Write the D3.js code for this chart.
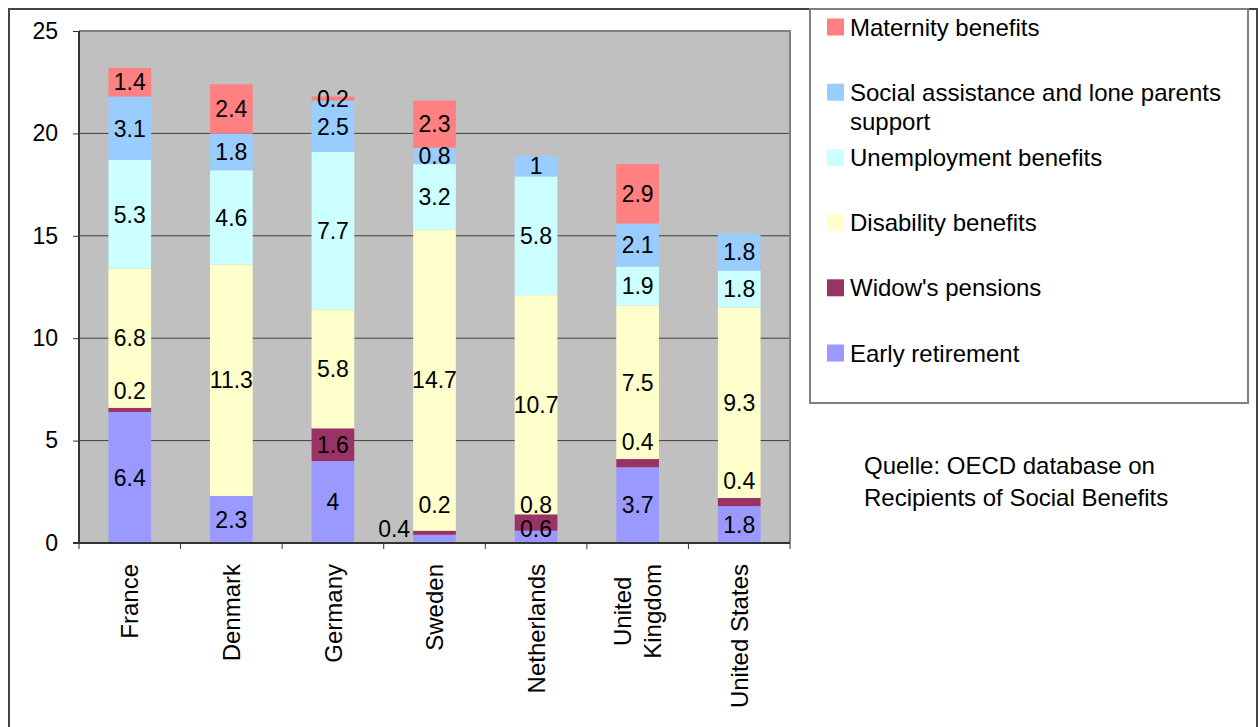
<!DOCTYPE html>
<html>
<head>
<meta charset="utf-8">
<script src="https://cdn.jsdelivr.net/npm/d3@7"></script>
<style>
  html, body { margin: 0; padding: 0; background: #fff; }
  svg { display: block; font-family: "Liberation Sans", Arial, sans-serif; }
</style>
</head>
<body>
<svg id="chart" width="1258" height="727"></svg>
<script>
// ---------- data ----------
const categories = ["France", "Denmark", "Germany", "Sweden", "Netherlands", "United Kingdom", "United States"];
const earlyRetirement  = [6.4, 2.3, 4, 0.4, 0.6, 3.7, 1.8];
const widowsPensions   = [0.2, 0, 1.6, 0.2, 0.8, 0.4, 0.4];
const disability       = [6.8, 11.3, 5.8, 14.7, 10.7, 7.5, 9.3];
const unemployment     = [5.3, 4.6, 7.7, 3.2, 5.8, 1.9, 1.8];
const socialAssistance = [3.1, 1.8, 2.5, 0.8, 1, 2.1, 1.8];
const maternity        = [1.4, 2.4, 0.2, 2.3, 0, 2.9, 0];
const seriesNames = ["Early retirement", "Widow's pensions", "Disability benefits",
                     "Unemployment benefits", "Social assistance and lone parents support", "Maternity benefits"];
const yTicks = [0, 5, 10, 15, 20, 25];
const sourceNote = ["Quelle: OECD database on", "Recipients of Social Benefits"];

// ---------- styling ----------
const seriesValues = [earlyRetirement, widowsPensions, disability, unemployment, socialAssistance, maternity];
const colors = ["#9999FF", "#993366", "#FFFFCC", "#CCFFFF", "#99CCFF", "#FF8080"];
const FONT = 23;

const svg = d3.select("#chart");
const plot = { left: 79, right: 790, top: 31, bottom: 543 };

// outer frame
svg.append("rect").attr("x", 9).attr("y", 9).attr("width", 1248).attr("height", 730)
  .attr("fill", "none").attr("stroke", "#444").attr("stroke-width", 2);

// table for stack
const rows = categories.map((c, i) => {
  const r = { category: c };
  seriesNames.forEach((s, k) => r[s] = seriesValues[k][i]);
  return r;
});
const stacked = d3.stack().keys(seriesNames)(rows);

const x = d3.scaleBand().domain(categories).range([plot.left, plot.right])
  .paddingInner(0.58).paddingOuter(0.29);
const y = d3.scaleLinear().domain([0, 25]).range([plot.bottom, plot.top]);

// plot background
svg.append("rect").attr("x", plot.left).attr("y", plot.top)
  .attr("width", plot.right - plot.left).attr("height", plot.bottom - plot.top)
  .attr("fill", "#C0C0C0");

// gridlines
svg.append("g").selectAll("line").data(yTicks.filter(t => t > 0 && t < 25)).join("line")
  .attr("x1", plot.left).attr("x2", plot.right)
  .attr("y1", d => y(d)).attr("y2", d => y(d))
  .attr("stroke", "#404040").attr("stroke-width", 1);

// plot top/right frame
svg.append("path")
  .attr("d", `M${plot.left},${y(25)}H${plot.right}V${plot.bottom}`)
  .attr("fill", "none").attr("stroke", "#808080").attr("stroke-width", 2);

// bars
const layers = svg.append("g").selectAll("g").data(stacked).join("g")
  .attr("fill", (d, i) => colors[i]);
layers.selectAll("rect").data(d => d.map(p => ({ p, cat: p.data.category }))).join("rect")
  .attr("x", d => x(d.cat))
  .attr("width", x.bandwidth())
  .attr("y", d => y(d.p[1]))
  .attr("height", d => y(d.p[0]) - y(d.p[1]));

// value labels with simple collision avoidance (like Excel)
const labelG = svg.append("g").attr("font-size", FONT).attr("fill", "#000");
categories.forEach((c, i) => {
  let prevY = null;
  const active = seriesValues.map((s, k) => k).filter(k => seriesValues[k][i] > 0);
  active.forEach((k, n) => {
    const v = seriesValues[k][i];
    const seg = stacked[k][i];
    const segH = y(seg[0]) - y(seg[1]);
    const isFirst = n === 0, isLast = n === active.length - 1;
    let cy = y((seg[0] + seg[1]) / 2);
    if (!isFirst && !isLast && segH < 14) cy = y(seg[1]) - 17;   // thin middle segment: label above it
    cy = Math.min(cy, plot.bottom - 14);
    if (prevY !== null && cy > prevY - 24) cy = prevY - 24;
    let cx = x(c) + x.bandwidth() / 2;
    let anchor = "middle";
    if (isFirst && segH < 10) { cx = x(c) - 3; anchor = "end"; }
    labelG.append("text")
      .attr("x", cx).attr("y", cy).attr("dy", "0.36em")
      .attr("text-anchor", anchor)
      .text(String(v));
    prevY = cy;
  });
});

// y axis
const yAxis = svg.append("g").attr("transform", `translate(${plot.left},0)`)
  .call(d3.axisLeft(y).tickValues(yTicks).tickSize(6).tickPadding(15).tickFormat(d3.format("d")));
yAxis.select(".domain").attr("stroke", "#333").attr("stroke-width", 2).attr("d", `M0,${y(25)}V${y(0)}`);
yAxis.selectAll(".tick line").attr("stroke", "#333");
yAxis.selectAll(".tick text").attr("font-size", FONT).attr("fill", "#000")
  .attr("font-family", "'Liberation Sans', Arial, sans-serif");

// x axis line & boundary ticks
const step = x.step();
const boundaries = categories.map(c => x(c) + x.bandwidth() / 2 - step / 2)
  .concat([x(categories[categories.length - 1]) + x.bandwidth() / 2 + step / 2]);
svg.append("line").attr("x1", plot.left - 6).attr("x2", plot.right)
  .attr("y1", plot.bottom).attr("y2", plot.bottom)
  .attr("stroke", "#333").attr("stroke-width", 2);
svg.append("g").selectAll("line").data(boundaries).join("line")
  .attr("x1", d => d).attr("x2", d => d)
  .attr("y1", plot.bottom).attr("y2", plot.bottom + 6)
  .attr("stroke", "#333").attr("stroke-width", 1);

// category labels (rotated)
const catG = svg.append("g").attr("font-size", FONT + 1).attr("fill", "#000");
categories.forEach(c => {
  const cx = x(c) + x.bandwidth() / 2;
  const g = catG.append("g").attr("transform", `translate(${cx},${plot.bottom + 21}) rotate(-90)`);
  const probe = g.append("text").text(c);
  const full = probe.node().getComputedTextLength();
  probe.remove();
  let lines = [c];
  if (full > 150) {
    const words = c.split(" ");
    lines = [words.slice(0, 1).join(" "), words.slice(1).join(" ")];
  }
  const widths = lines.map(l => { const t = g.append("text").text(l); const w = t.node().getComputedTextLength(); t.remove(); return w; });
  const W = d3.max(widths);
  lines.forEach((l, j) => {
    g.append("text")
      .attr("x", -W / 2)
      .attr("y", (j - (lines.length - 1) / 2) * 30)
      .attr("dy", "0.36em")
      .attr("text-anchor", "middle")
      .text(l);
  });
});

// legend
const legend = { x: 810, y: 9, w: 438, h: 394 };
svg.append("rect").attr("x", legend.x).attr("y", legend.y).attr("width", legend.w).attr("height", legend.h)
  .attr("fill", "#fff").attr("stroke", "#808080").attr("stroke-width", 2);
const legendOrder = d3.range(seriesNames.length).reverse();
const lg = svg.append("g").attr("font-size", FONT + 1).attr("fill", "#000");
legendOrder.forEach((k, idx) => {
  const cy = 27 + idx * 65.2;
  lg.append("rect").attr("x", 827).attr("y", cy - 8.5).attr("width", 17).attr("height", 17).attr("fill", colors[k]);
  let name = seriesNames[k];
  let lines = [name];
  if (name === "Social assistance and lone parents support") lines = ["Social assistance and lone parents", "support"];
  lines.forEach((l, j) => {
    lg.append("text").attr("x", 850).attr("y", cy + j * 29).attr("dy", "0.36em").text(l);
  });
});

// source note
svg.append("g").attr("font-size", FONT + 1).attr("fill", "#000").selectAll("text")
  .data(sourceNote).join("text")
  .attr("x", 864).attr("y", (d, i) => 465 + i * 32).attr("dy", "0.36em").text(d => d);
</script>
</body>
</html>
